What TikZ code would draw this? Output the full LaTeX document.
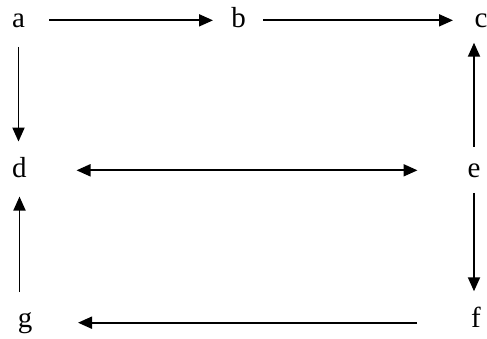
\documentclass[tikz,border=0pt]{standalone}
\usepackage{fontspec}
\setmainfont{Liberation Serif}
\usetikzlibrary{arrows.meta}
\begin{document}
\begin{tikzpicture}[x=1pt,y=1pt,
  lbl/.style={inner sep=0pt, anchor=base, font=\fontsize{29}{31}\selectfont},
  con/.style={line width=1.9pt, -{Triangle[length=14pt,width=12pt]}},
  dcon/.style={line width=1.9pt, {Triangle[length=14pt,width=12pt]}-{Triangle[length=14pt,width=12pt]}}]
\useasboundingbox (0,0) rectangle (487,-338);
\node[lbl] (a) at (18.5,-27) {a};
\node[lbl] (b) at (238.5,-27) {b};
\node[lbl] (c) at (481,-27) {c};
\node[lbl] (d) at (19.5,-177) {d};
\node[lbl] (e) at (474,-177) {e};
\node[lbl] (f) at (476,-327) {f};
\node[lbl] (g) at (25,-327) {g};
% a -> b
\draw[con, shorten <=30.5pt, shorten >=25.5pt] (a.center) -- (a.center -| b.center);
% b -> c
\draw[con, shorten <=24.5pt, shorten >=28pt] (a.center -| b.center) -- (a.center -| c.center);
% a -> d
\draw[con, shorten <=26.5pt, shorten >=25.5pt] (a.center) -- (a.center |- d.center);
% d <-> e
\draw[dcon, shorten <=57pt, shorten >=56.5pt] (e.center -| d.center) -- (e.center);
% e -> c
\draw[con, shorten <=23.5pt, shorten >=22.4pt] (e.center) -- (e.center |- c.center);
% e -> f
\draw[con, shorten <=22.5pt, shorten >=25.5pt] (e.center) -- (e.center |- f.center);
% f -> g
\draw[con, shorten <=59pt, shorten >=53pt] (g.center -| f.center) -- (g.center);
% g -> d
\draw[con, shorten <=30.5pt, shorten >=29.5pt] (d.center |- g.center) -- (d.center);
\end{tikzpicture}
\end{document}
